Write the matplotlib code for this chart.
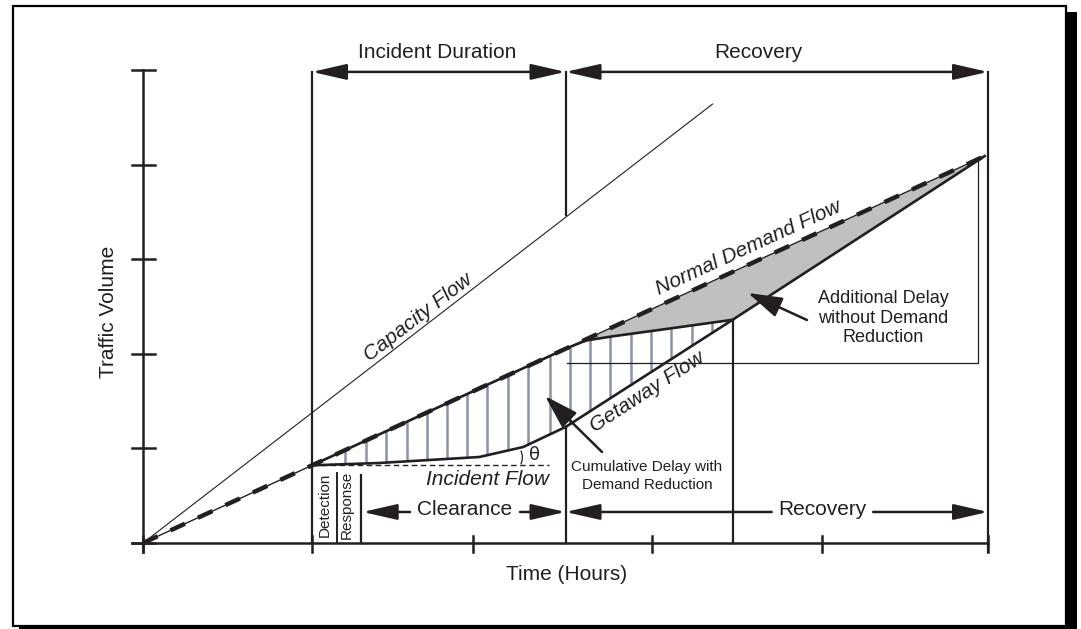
import numpy as np
import matplotlib
matplotlib.use('Agg')
import matplotlib.pyplot as plt
from matplotlib.patches import Rectangle, Arc

plt.rcParams['font.family'] = ['Liberation Sans', 'DejaVu Sans']

# chart values (time in hours, traffic volume in arbitrary units)
time_ticks = [0, 1.0, 1.95, 3.01, 4.02, 5.0]
volume_ticks = [0, 1, 2, 3, 4, 5]

capacity_t = [0, 3.37]
capacity_v = [0, 4.64]

demand_t = [0, 1.0, 4.98]          # normal demand flow
demand_v = [0, 0.821, 4.09]

reduced_t = [1.0, 2.50, 2.62, 2.78, 3.18, 3.49]   # demand with reduction
reduced_v = [0.821, 2.053, 2.140, 2.185, 2.283, 2.36]

incident_t = [1.0, 1.40, 1.99, 2.25, 2.50]        # flow past incident
incident_v = [0.821, 0.846, 0.909, 1.015, 1.226]

getaway_t = [2.50, 3.49, 4.98]
getaway_v = [1.226, 2.361, 4.09]

incident_flow_t = [1.0, 2.40]
incident_flow_v = [0.821, 0.821]

hatch_t = [1.195, 1.320, 1.438, 1.562, 1.680, 1.799, 1.917, 2.036, 2.160, 2.278,
           2.408, 2.527, 2.645, 2.763, 2.888, 3.006, 3.124, 3.249, 3.367]

# phase boundaries (hours)
incident_start = 1.0
detection_end = 1.148
response_end = 1.29
clearance_end = 2.50
recovery_end = 3.49
total_end = 5.0

top_level = 4.98
bottom_level = 0.328

ink = '#231f20'

fig = plt.figure(figsize=(10.81, 6.29), dpi=100)
ax = fig.add_axes([0, 0, 1, 1])
ax.set_xlim(-0.8462, 5.5503)
ax.set_ylim(-0.9091, 5.740)
ax.axis('off')

# frame with shadow
ax.add_patch(Rectangle((0.012, 0.0048), 0.9741, 0.9857, transform=ax.transAxes,
                       fill=False, lw=1.6, ec='black'))
ax.add_patch(Rectangle((0.9861, 0.0), 0.0102, 0.981, transform=ax.transAxes,
                       fc='black', ec='none'))
ax.add_patch(Rectangle((0.018, 0.0), 0.978, 0.005, transform=ax.transAxes,
                       fc='black', ec='none'))

# axes
ax.plot([-0.065, total_end], [0, 0], color=ink, lw=1.8)
ax.plot([0, 0], [-0.1, 5.0], color=ink, lw=1.8)
for v in volume_ticks:
    ax.plot([-0.065, 0.071], [v, v], color=ink, lw=1.8)
for t in time_ticks:
    ax.plot([t, t], [-0.1, 0.07], color=ink, lw=1.8)

# delay area without demand reduction (gray)
g = np.linspace(clearance_end, demand_t[-1], 300)
g_top = np.interp(g, demand_t, demand_v)
g_bot = np.where(g <= recovery_end, np.interp(g, reduced_t, reduced_v),
                 np.interp(g, getaway_t, getaway_v))
g_bot = np.minimum(g_bot, g_top)
ax.fill_between(g, g_bot, g_top, color='#c0c0c0', lw=0, zorder=1)

# cumulative delay with demand reduction (hatch)
lower_t = incident_t + getaway_t[1:]
lower_v = incident_v + getaway_v[1:]
h_top = np.interp(hatch_t, reduced_t, reduced_v)
h_bot = np.interp(hatch_t, lower_t, lower_v)
ax.vlines(hatch_t, h_bot, h_top, color='#8a93a6', lw=1.8, zorder=1)

# flows
ax.plot(capacity_t, capacity_v, color=ink, lw=0.8, zorder=3)
ax.plot(demand_t, demand_v, color=ink, lw=1.0, zorder=3)
ax.plot(reduced_t, reduced_v, color=ink, lw=1.9, zorder=3)
ax.plot(demand_t, demand_v, color=ink, lw=3.2, dashes=(3.6, 3.2), zorder=4)
ax.plot(incident_t, incident_v, color=ink, lw=1.9, zorder=3)
ax.plot(getaway_t, getaway_v, color=ink, lw=1.9, zorder=3)
ax.plot(incident_flow_t, incident_flow_v, color=ink, lw=1.0, dashes=(4, 2.5), zorder=3)

# theta arc
ax.add_patch(Arc((2.15, 0.905), 2 * 16 / 169, 2 * 16 / 94.6, theta1=-40, theta2=40,
                 color=ink, lw=0.9))
ax.text(2.314, 0.93, 'θ', fontsize=13, ha='center', va='center', color=ink,
        family=['DejaVu Sans'])

# phase boundaries
ax.plot([incident_start, incident_start], [0, top_level], color=ink, lw=1.6)
ax.plot([clearance_end, clearance_end], [3.467, top_level], color=ink, lw=1.6)
ax.plot([clearance_end, clearance_end], [0, incident_v[-1]], color=ink, lw=1.6)
ax.plot([recovery_end, recovery_end], [0, getaway_v[1]], color=ink, lw=1.6)
ax.plot([total_end, total_end], [-0.1, top_level], color=ink, lw=1.6)
ax.plot([detection_end, detection_end], [0, 0.74], color=ink, lw=1.4)
ax.plot([response_end, response_end], [0, 0.72], color=ink, lw=1.6)

# leader box for the gray area
ax.plot([2.51, 4.94, 4.94], [1.903, 1.903, 4.049], color=ink, lw=0.9, zorder=2)

# dimension arrows
def span_arrow(t0, t1, v, style):
    ax.annotate('', xy=(t1, v), xytext=(t0, v),
                arrowprops=dict(arrowstyle=style + ',head_length=1.05,head_width=0.24',
                                mutation_scale=20, color=ink, lw=1.8,
                                shrinkA=0, shrinkB=0))

span_arrow(incident_start, clearance_end, top_level, '<|-|>')
span_arrow(clearance_end, total_end, top_level, '<|-|>')
span_arrow(1.580, response_end + 0.01, bottom_level, '-|>')
span_arrow(2.231, clearance_end, bottom_level, '-|>')
span_arrow(3.72, clearance_end, bottom_level, '-|>')
span_arrow(4.32, total_end, bottom_level, '-|>')

ax.text(1.740, 5.19, 'Incident Duration', fontsize=15, ha='center', va='center', color=ink)
ax.text(3.639, 5.19, 'Recovery', fontsize=15, ha='center', va='center', color=ink)
ax.text(1.905, 0.349, 'Clearance', fontsize=15, ha='center', va='center', color=ink)
ax.text(4.020, 0.349, 'Recovery', fontsize=15, ha='center', va='center', color=ink)
ax.text(1.077, 0.40, 'Detection', fontsize=11, rotation=90, ha='center', va='center', color=ink)
ax.text(1.207, 0.40, 'Response', fontsize=11, rotation=90, ha='center', va='center', color=ink)

ax.text(-0.207, 2.44, 'Traffic Volume', fontsize=15, rotation=90, ha='center', va='center', color=ink)
ax.text(2.509, -0.338, 'Time (Hours)', fontsize=15, ha='center', va='center', color=ink)

ax.text(1.628, 2.385, 'Capacity Flow', fontsize=15, style='italic', rotation=37.6,
        ha='center', va='center', color=ink, rotation_mode='anchor')
ax.text(3.580, 3.118, 'Normal Demand Flow', fontsize=15, style='italic', rotation=24.7,
        ha='center', va='center', color=ink, rotation_mode='anchor')
ax.text(2.982, 1.596, 'Getaway Flow', fontsize=15, style='italic', rotation=33,
        ha='center', va='center', color=ink, rotation_mode='anchor')
ax.text(2.036, 0.666, 'Incident Flow', fontsize=15, style='italic', ha='center', va='center', color=ink)

ax.text(2.982, 0.708, 'Cumulative Delay with\nDemand Reduction', fontsize=11,
        ha='center', va='center', color=ink, linespacing=1.35)
ax.text(4.379, 2.378, 'Additional Delay\nwithout Demand\nReduction', fontsize=13,
        ha='center', va='center', color=ink, linespacing=1.2)

ax.annotate('', xy=(2.379, 1.554), xytext=(2.716, 0.962),
            arrowprops=dict(arrowstyle='-|>,head_length=1.05,head_width=0.32',
                            mutation_scale=20, color=ink, lw=1.8, shrinkA=0, shrinkB=0))
ax.annotate('', xy=(3.580, 2.643), xytext=(3.929, 2.357),
            arrowprops=dict(arrowstyle='-|>,head_length=1.05,head_width=0.32',
                            mutation_scale=20, color=ink, lw=1.8, shrinkA=0, shrinkB=0))

fig.savefig('out.png', dpi=100)
